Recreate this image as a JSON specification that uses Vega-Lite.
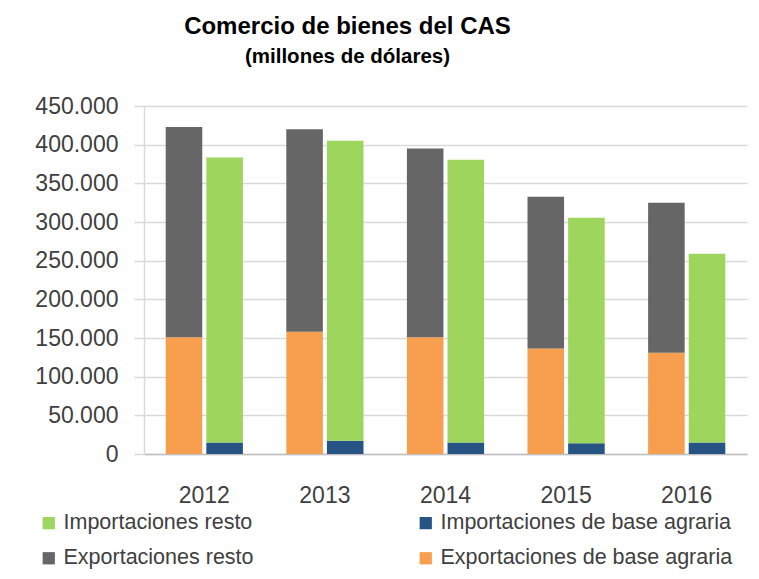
{
  "$schema": "https://vega.github.io/schema/vega-lite/v6.json",
  "width": 603,
  "height": 348,
  "autosize": {"type": "none"},
  "padding": {"left": 144, "top": 106, "right": 12, "bottom": 125},
  "background": "white",
  "title": {
    "text": "Comercio de bienes del CAS",
    "subtitle": "(millones de dólares)",
    "anchor": "middle",
    "dx": -98,
    "offset": 28,
    "font": "Liberation Sans",
    "fontSize": 24,
    "fontWeight": "bold",
    "color": "#000000",
    "subtitleFont": "Liberation Sans",
    "subtitleFontSize": 20.5,
    "subtitleFontWeight": "bold",
    "subtitleColor": "#000000",
    "subtitlePadding": 8
  },
  "data": {
    "values": [
      {"anio": "2012", "flujo": "Exportaciones", "tipo": "Exportaciones de base agraria", "orden": 1, "valor": 151000},
      {"anio": "2012", "flujo": "Exportaciones", "tipo": "Exportaciones resto", "orden": 2, "valor": 272000},
      {"anio": "2012", "flujo": "Importaciones", "tipo": "Importaciones de base agraria", "orden": 1, "valor": 15000},
      {"anio": "2012", "flujo": "Importaciones", "tipo": "Importaciones resto", "orden": 2, "valor": 368500},
      {"anio": "2013", "flujo": "Exportaciones", "tipo": "Exportaciones de base agraria", "orden": 1, "valor": 158000},
      {"anio": "2013", "flujo": "Exportaciones", "tipo": "Exportaciones resto", "orden": 2, "valor": 262000},
      {"anio": "2013", "flujo": "Importaciones", "tipo": "Importaciones de base agraria", "orden": 1, "valor": 17000},
      {"anio": "2013", "flujo": "Importaciones", "tipo": "Importaciones resto", "orden": 2, "valor": 388000},
      {"anio": "2014", "flujo": "Exportaciones", "tipo": "Exportaciones de base agraria", "orden": 1, "valor": 151000},
      {"anio": "2014", "flujo": "Exportaciones", "tipo": "Exportaciones resto", "orden": 2, "valor": 244000},
      {"anio": "2014", "flujo": "Importaciones", "tipo": "Importaciones de base agraria", "orden": 1, "valor": 15000},
      {"anio": "2014", "flujo": "Importaciones", "tipo": "Importaciones resto", "orden": 2, "valor": 365500},
      {"anio": "2015", "flujo": "Exportaciones", "tipo": "Exportaciones de base agraria", "orden": 1, "valor": 136500},
      {"anio": "2015", "flujo": "Exportaciones", "tipo": "Exportaciones resto", "orden": 2, "valor": 196000},
      {"anio": "2015", "flujo": "Importaciones", "tipo": "Importaciones de base agraria", "orden": 1, "valor": 14000},
      {"anio": "2015", "flujo": "Importaciones", "tipo": "Importaciones resto", "orden": 2, "valor": 291500},
      {"anio": "2016", "flujo": "Exportaciones", "tipo": "Exportaciones de base agraria", "orden": 1, "valor": 131000},
      {"anio": "2016", "flujo": "Exportaciones", "tipo": "Exportaciones resto", "orden": 2, "valor": 194000},
      {"anio": "2016", "flujo": "Importaciones", "tipo": "Importaciones de base agraria", "orden": 1, "valor": 15000},
      {"anio": "2016", "flujo": "Importaciones", "tipo": "Importaciones resto", "orden": 2, "valor": 244000}
    ]
  },
  "mark": {"type": "bar"},
  "encoding": {
    "x": {
      "field": "anio",
      "type": "nominal",
      "scale": {"paddingInner": 0.36, "paddingOuter": 0.18},
      "axis": {
        "title": null,
        "labelAngle": 0,
        "labelFont": "Liberation Sans",
        "labelFontSize": 23,
        "labelColor": "#404040",
        "labelPadding": 30,
        "ticks": false,
        "domainColor": "#bfbfbf",
        "domainWidth": 1.5,
        "grid": false
      }
    },
    "xOffset": {
      "field": "flujo",
      "type": "nominal",
      "scale": {"domain": ["Exportaciones", "Importaciones"], "paddingInner": 0.1, "paddingOuter": 0}
    },
    "y": {
      "field": "valor",
      "type": "quantitative",
      "aggregate": "sum",
      "stack": "zero",
      "scale": {"domain": [0, 450000], "nice": false},
      "axis": {
        "title": null,
        "values": [0, 50000, 100000, 150000, 200000, 250000, 300000, 350000, 400000, 450000],
        "format": ",.0f",
        "labelFont": "Liberation Sans",
        "labelFontSize": 23,
        "labelColor": "#404040",
        "labelPadding": 16,
        "tickSize": 10,
        "tickColor": "#d9d9d9",
        "tickWidth": 1.5,
        "domainColor": "#d9d9d9",
        "domainWidth": 1.5,
        "gridColor": "#d9d9d9",
        "gridWidth": 1.5
      }
    },
    "color": {
      "field": "tipo",
      "type": "nominal",
      "scale": {
        "domain": ["Importaciones resto", "Importaciones de base agraria", "Exportaciones resto", "Exportaciones de base agraria"],
        "range": ["#9dd55d", "#255485", "#666666", "#f79f4f"]
      },
      "legend": {
        "title": null,
        "orient": "none",
        "legendX": -106,
        "legendY": 406,
        "direction": "horizontal",
        "columns": 2,
        "columnPadding": 161,
        "rowPadding": 12.5,
        "padding": 0,
        "symbolType": "square",
        "symbolSize": 150,
        "symbolStrokeWidth": 0,
        "symbolOpacity": 1,
        "labelOffset": 4,
        "labelFont": "Liberation Sans",
        "labelFontSize": 21.5,
        "labelColor": "#404040",
        "labelLimit": 500
      }
    },
    "order": {"field": "orden", "type": "quantitative"}
  },
  "config": {
    "locale": {
      "number": {"decimal": ",", "thousands": ".", "grouping": [3], "currency": ["", " €"]}
    },
    "view": {"stroke": null}
  }
}
